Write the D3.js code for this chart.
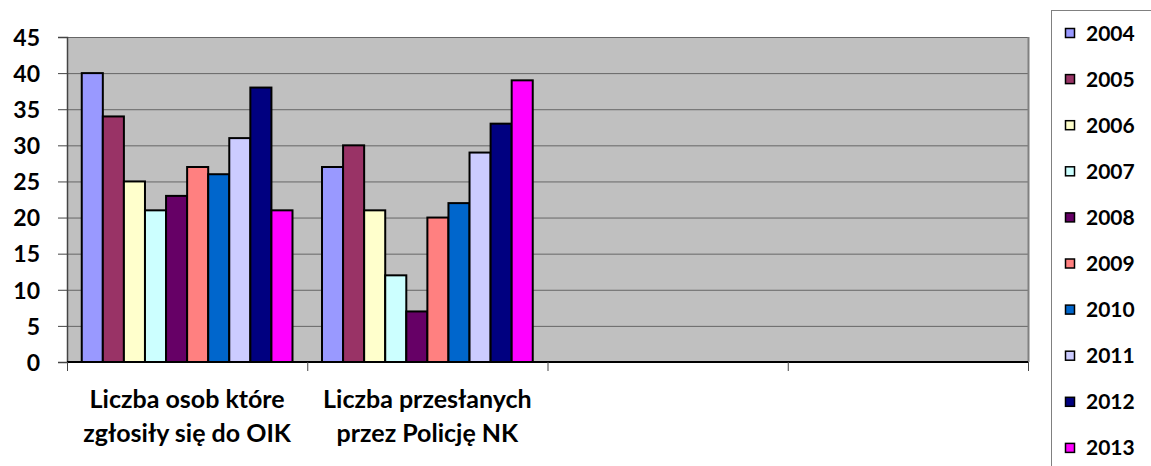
<!DOCTYPE html>
<html>
<head>
<meta charset="utf-8">
<script src="https://cdn.jsdelivr.net/npm/d3@7"></script>
<style>
  body { margin: 0; background: #fff; }
  svg text { font-family: Lato, "Open Sans", sans-serif; font-weight: bold; fill: #000; }
</style>
</head>
<body>
<div id="chart"></div>
<script>
(function() {
	var w = 1151, h = 466,
		margins = {top: 37, bottom: 362, left: 67, right: 1028}

	// data
	var categories = [
		["Liczba osob które", "zgłosiły się do OIK"],
		["Liczba przesłanych", "przez Policję NK"],
		["", ""],
		["", ""]
	]
	var years = ["2004", "2005", "2006", "2007", "2008", "2009", "2010", "2011", "2012", "2013"]
	var colors = ["#9999FF", "#993366", "#FFFFCC", "#CCFFFF", "#660066", "#FF8080", "#0066CC", "#CCCCFF", "#000080", "#FF00FF"]
	var valuesOIK = [40, 34, 25, 21, 23, 27, 26, 31, 38, 21]
	var valuesPolicja = [27, 30, 21, 12, 7, 20, 22, 29, 33, 39]
	var yTicks = [0, 5, 10, 15, 20, 25, 30, 35, 40, 45]

	var series = [valuesOIK, valuesPolicja, [], []]

	var svg = d3.select("#chart").append("svg")
		.attr("width", w)
		.attr("height", h)

	var x = d3.scaleBand()
		.domain(d3.range(categories.length))
		.range([margins.left, margins.right])

	var xInner = d3.scaleBand()
		.domain(years)
		.range([0, x.bandwidth()])
		.paddingOuter(0.7)

	var y = d3.scaleLinear()
		.domain([0, 45])
		.range([margins.bottom, margins.top])

	// plot background
	svg.append("rect")
		.attr("x", margins.left)
		.attr("y", margins.top)
		.attr("width", margins.right - margins.left)
		.attr("height", margins.bottom - margins.top)
		.attr("fill", "#C0C0C0")

	// gridlines
	svg.append("g")
		.selectAll("line")
		.data(yTicks.slice(1))
		.enter()
		.append("line")
		.attr("x1", margins.left)
		.attr("x2", margins.right)
		.attr("y1", d => y(d) + 0.5)
		.attr("y2", d => y(d) + 0.5)
		.attr("stroke", "#666")
		.attr("stroke-width", 1)

	// right edge shade
	svg.append("line")
		.attr("x1", margins.right + 0.5).attr("x2", margins.right + 0.5)
		.attr("y1", margins.top).attr("y2", margins.bottom)
		.attr("stroke", "#808080").attr("stroke-width", 2)

	// bars
	var groups = svg.selectAll(".group")
		.data(series)
		.enter()
		.append("g")
		.attr("transform", (d, i) => "translate(" + x(i) + ",0)")

	groups.selectAll("rect")
		.data(d => d.map((v, j) => ({year: years[j], value: v, color: colors[j]})))
		.enter()
		.append("rect")
		.attr("x", d => xInner(d.year))
		.attr("y", d => y(d.value))
		.attr("width", xInner.bandwidth())
		.attr("height", d => y(0) - y(d.value))
		.attr("fill", d => d.color)
		.attr("stroke", "#000")
		.attr("stroke-width", 2)

	// y axis
	var yAxis = d3.axisLeft(y).tickValues(yTicks).tickSize(9).tickPadding(18)
	var gy = svg.append("g")
		.attr("transform", "translate(" + margins.left + ",0)")
		.call(yAxis)
	gy.select(".domain").attr("stroke", "#444").attr("stroke-width", 1.5)
	gy.selectAll(".tick line").attr("stroke", "#444")
	gy.selectAll(".tick text").style("font-size", "23px").attr("dy", "0.36em")

	// x axis
	var xTicks = d3.range(categories.length + 1).map(i => margins.left + i * x.bandwidth())
	svg.append("line")
		.attr("x1", margins.left).attr("x2", margins.right)
		.attr("y1", margins.bottom).attr("y2", margins.bottom)
		.attr("stroke", "#000").attr("stroke-width", 2)
	svg.append("g")
		.selectAll("line")
		.data(xTicks)
		.enter()
		.append("line")
		.attr("x1", d => d + 0.5).attr("x2", d => d + 0.5)
		.attr("y1", margins.bottom).attr("y2", margins.bottom + 9)
		.attr("stroke", "#444")

	// category labels
	var labels = svg.append("g")
		.selectAll("text")
		.data(categories)
		.enter()
		.append("text")
		.attr("x", (d, i) => x(i) + x.bandwidth() / 2)
		.attr("y", 408)
		.attr("text-anchor", "middle")
		.style("font-size", "25px")
	labels.selectAll("tspan")
		.data(d => d)
		.enter()
		.append("tspan")
		.attr("x", function() { return d3.select(this.parentNode).attr("x") })
		.attr("dy", (d, i) => i === 0 ? 0 : 34)
		.text(d => d)

	// legend
	svg.append("rect")
		.attr("x", 1051.5)
		.attr("y", 10.5)
		.attr("width", 110)
		.attr("height", 470)
		.attr("fill", "#fff")
		.attr("stroke", "#808080")

	var legend = svg.append("g")
		.selectAll("g")
		.data(years)
		.enter()
		.append("g")
		.attr("transform", (d, i) => "translate(1065," + (33 + i * 46.1) + ")")

	legend.append("rect")
		.attr("x", 0.5)
		.attr("y", -4.5)
		.attr("width", 9)
		.attr("height", 9)
		.attr("fill", (d, i) => colors[i])
		.attr("stroke", "#000")
		.attr("stroke-width", 1.5)

	legend.append("text")
		.attr("x", 21)
		.attr("y", 0)
		.attr("dy", "0.36em")
		.style("font-size", "21px")
		.text(d => d)
})()
</script>
</body>
</html>
